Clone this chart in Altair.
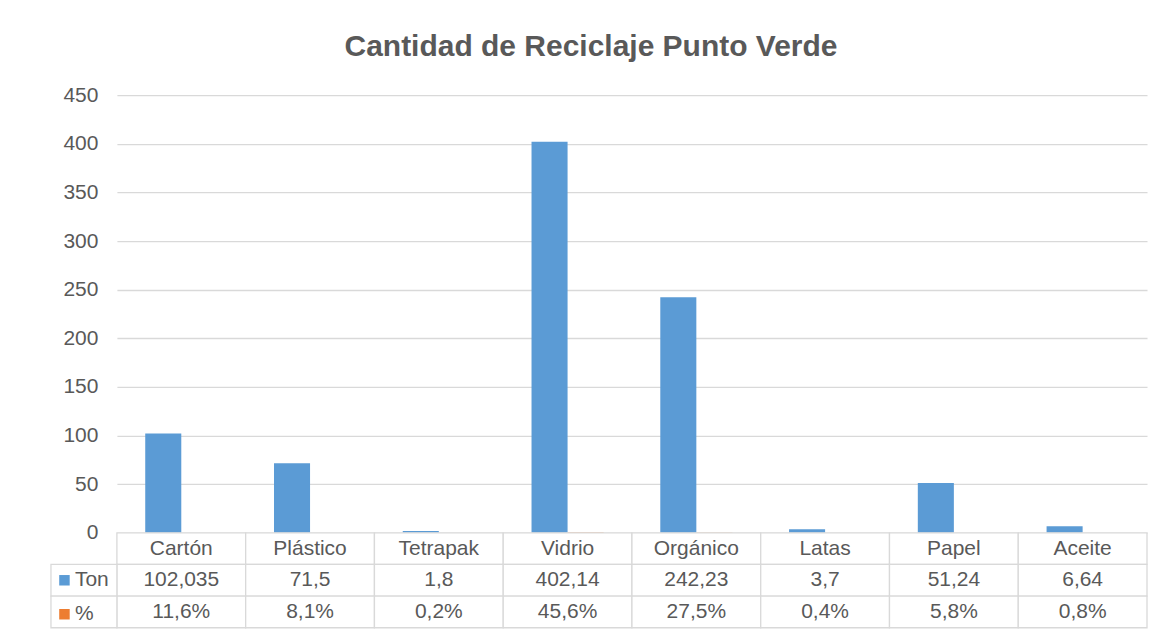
import altair as alt
import pandas as pd

categories = ["Cartón", "Plástico", "Tetrapak", "Vidrio", "Orgánico", "Latas", "Papel", "Aceite"]
ton = [102.035, 71.5, 1.8, 402.14, 242.23, 3.7, 51.24, 6.64]
pct = [11.6, 8.1, 0.2, 45.6, 27.5, 0.4, 5.8, 0.8]
series = ["Ton", "%"]
colors = ["#5B9BD5", "#ED7D31"]
row_names = ["cat", "Ton", "%"]
y_ticks = [0, 50, 100, 150, 200, 250, 300, 350, 400, 450]

FONT = "Liberation Sans"
TXT = "#595959"
GRID = "#D9D9D9"


def es_num(v):
    return str(v).replace(".", ",")


def es_pct(v):
    return f"{v:.1f}%".replace(".", ",")


bars_df = pd.DataFrame({
    "cat": categories * 2,
    "serie": ["Ton"] * len(categories) + ["%"] * len(categories),
    "valor": ton + [p / 100 for p in pct],
})

tbl_df = pd.DataFrame({
    "cat": categories * 3,
    "fila": ["cat"] * 8 + ["Ton"] * 8 + ["%"] * 8,
    "texto": categories + [es_num(v) for v in ton] + [es_pct(v) for v in pct],
})

lbl_df = pd.DataFrame({"fila": ["Ton", "%"], "serie": series})

x_tbl = alt.X("cat:N", sort=categories,
              scale=alt.Scale(domain=categories, paddingInner=0, paddingOuter=0), axis=None)
y_tbl = alt.Y("fila:N", sort=row_names,
              scale=alt.Scale(domain=row_names, paddingInner=0, paddingOuter=0), axis=None)

bars = alt.Chart(bars_df).mark_bar().encode(
    x=alt.X("cat:N", sort=categories,
            scale=alt.Scale(domain=categories, paddingInner=0.44, paddingOuter=0.22), axis=None),
    xOffset=alt.XOffset("serie:N", sort=series,
                        scale=alt.Scale(domain=series, paddingInner=0, paddingOuter=0)),
    y=alt.Y("valor:Q", scale=alt.Scale(domain=[0, 450], nice=False),
            axis=alt.Axis(values=y_ticks, title=None, domain=False, ticks=False,
                          labelPadding=19, labelFontSize=21, labelColor=TXT, labelFont=FONT,
                          gridColor=GRID, gridWidth=1.3)),
    color=alt.Color("serie:N", scale=alt.Scale(domain=series, range=colors), legend=None),
).properties(width=1031, height=438)

cells = alt.Chart(tbl_df).mark_rect(fill="white", stroke=GRID, strokeWidth=1.3).encode(
    x=x_tbl, y=y_tbl)

texts = alt.Chart(tbl_df).mark_text(fontSize=21, color=TXT, font=FONT).encode(
    x=x_tbl, y=y_tbl, text="texto:N")

left_cells = alt.Chart(lbl_df).mark_rect(fill="white", stroke=GRID, strokeWidth=1.3).encode(
    x=alt.value(-66), x2=alt.value(0), y=y_tbl)

keys = alt.Chart(lbl_df).mark_square(opacity=0).encode(
    y=y_tbl,
    color=alt.Color("serie:N", scale=alt.Scale(domain=series, range=colors),
                    legend=alt.Legend(orient="none", legendX=-63, legendY=37, title=None,
                                      symbolType="square", symbolSize=110, symbolOpacity=1,
                                      symbolStrokeWidth=0, labelFontSize=21, labelColor=TXT,
                                      labelFont=FONT, rowPadding=12, labelOffset=0, padding=0)),
)

table = alt.layer(cells, left_cells, texts, keys).properties(width=1031, height=95)

chart = alt.vconcat(bars, table, spacing=0, bounds="flush").resolve_scale(
    x="independent", y="independent", color="independent"
).properties(
    title=alt.TitleParams("Cantidad de Reciclaje Punto Verde", fontSize=30, font=FONT,
                          fontWeight="bold", color=TXT, anchor="middle", offset=22, dx=-8),
    padding={"left": 42, "top": 24, "right": 12, "bottom": 0},
    background="white",
).configure_view(strokeWidth=0, stroke="transparent")

chart.save("out.html", embed_options={"renderer": "svg", "actions": False})
